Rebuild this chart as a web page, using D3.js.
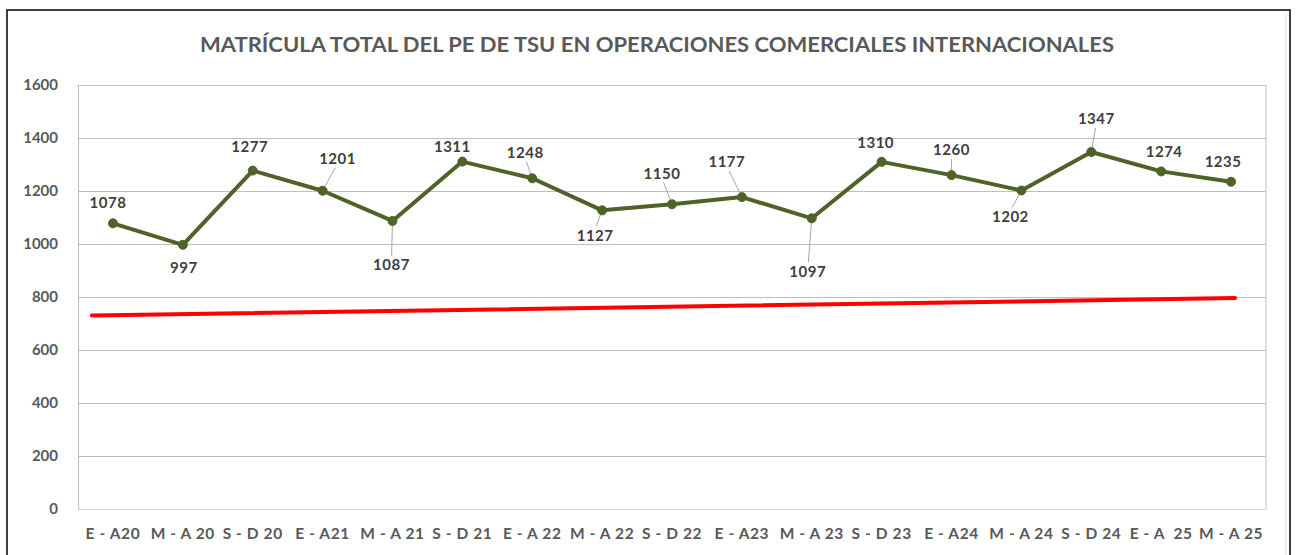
<!DOCTYPE html>
<html>
<head>
<meta charset="utf-8">
<script src="https://cdn.jsdelivr.net/npm/d3@7"></script>
<style>
  html, body { margin: 0; padding: 0; background: #fff; }
  svg { display: block; }
  text { font-family: Lato, "Open Sans", "DejaVu Sans", sans-serif; }
</style>
</head>
<body>
<svg id="chart" width="1296" height="555"></svg>
<script>
// Enrolment per term
const periods = ["E - A20", "M - A 20", "S - D 20", "E - A21", "M - A 21", "S - D 21",
                 "E - A 22", "M - A 22", "S - D 22", "E - A23", "M - A 23", "S - D 23",
                 "E - A24", "M - A 24", "S - D 24", "E - A  25", "M - A 25"];
const enrolment = [1078, 997, 1277, 1201, 1087, 1311, 1248, 1127, 1150, 1177, 1097,
                   1310, 1260, 1202, 1347, 1274, 1235];
// Reference (trend) line: value at its start and at its end
const trendValues = [730, 796];
const yTicks = [0, 200, 400, 600, 800, 1000, 1200, 1400, 1600];
const title = "MATRÍCULA TOTAL DEL PE DE TSU EN OPERACIONES COMERCIALES INTERNACIONALES";

// Label placement relative to each point (pixels) and whether a leader line is drawn
const labelOffsets = [[-5,-21],[1,23],[-3,-24],[15,-32],[-1,44],[-10,-15],[-7,-26],[-7,25],
                      [-10,-31],[-15,-35],[-4,53],[-6,-19],[0,-25],[-11,26],[5,-33],[3,-20],[-8,-20]];
const leaders = [0,0,0,1,1,0,1,1,1,1,1,0,1,1,1,0,0];

const svg = d3.select("#chart");
const W = 1296, H = 555;
const plot = { left: 78, right: 1266, top: 85, bottom: 509 };

// Outer frame
svg.append("rect").attr("x", 7).attr("y", 10).attr("width", 1283).attr("height", 560)
  .attr("fill", "#fff").attr("stroke", "#000").attr("stroke-width", 1.5);
svg.append("line").attr("x1", 1286).attr("x2", 1286).attr("y1", 14).attr("y2", H)
  .attr("stroke", "#d9d9d9").attr("stroke-width", 1);

const x = d3.scaleBand().domain(periods).range([plot.left, plot.right]).padding(0);
const cx = d => x(d) + x.bandwidth() / 2;
const y = d3.scaleLinear().domain([0, 1600]).range([plot.bottom, plot.top]);

// Title
svg.append("text")
  .attr("x", 657).attr("y", 52)
  .attr("text-anchor", "middle")
  .attr("font-size", 20).attr("font-weight", "bold")
  .attr("fill", "#595959")
  .attr("textLength", 914).attr("lengthAdjust", "spacingAndGlyphs")
  .text(title);

// Gridlines + y axis labels
const yAxis = d3.axisLeft(y).tickValues(yTicks).tickFormat(d3.format("d"))
  .tickSize(-(plot.right - plot.left)).tickPadding(20);
const gy = svg.append("g").attr("transform", `translate(${plot.left},0)`).call(yAxis);
gy.select(".domain").attr("stroke", "#bfbfbf");
gy.selectAll(".tick line").attr("stroke", "#bfbfbf").attr("stroke-width", 1);
gy.selectAll(".tick text").attr("font-size", 15).attr("font-weight", "bold")
  .attr("fill", "#595959").attr("font-family", "Lato, 'Open Sans', sans-serif");

// Right border of plot area
svg.append("line").attr("x1", plot.right).attr("x2", plot.right)
  .attr("y1", plot.top).attr("y2", plot.bottom).attr("stroke", "#bfbfbf");

// X axis
const xAxis = d3.axisBottom(x).tickSize(0).tickPadding(19);
const gx = svg.append("g").attr("transform", `translate(0,${plot.bottom})`).call(xAxis);
gx.select(".domain").attr("stroke", "#d9d9d9");
gx.selectAll(".tick text").attr("font-size", 15.5).attr("font-weight", "bold")
  .attr("fill", "#595959").attr("font-family", "Lato, 'Open Sans', sans-serif")
  .attr("letter-spacing", 0.6)
  .style("white-space", "pre").attr("xml:space", "preserve");

// Trend line (extends a little past the first and last points)
const tx0 = cx(periods[0]) - 21, tx1 = cx(periods[periods.length - 1]) + 4;
svg.append("line")
  .attr("x1", tx0).attr("y1", y(trendValues[0]))
  .attr("x2", tx1).attr("y2", y(trendValues[1]))
  .attr("stroke", "#ff0000").attr("stroke-width", 4).attr("stroke-linecap", "round");

// Enrolment line
const series = periods.map((p, i) => ({ p, v: enrolment[i], i }));
const line = d3.line().x(d => cx(d.p)).y(d => y(d.v));
svg.append("path").datum(series)
  .attr("d", line).attr("fill", "none")
  .attr("stroke", "#4f6228").attr("stroke-width", 4).attr("stroke-linejoin", "round");

// Leader lines
svg.selectAll("line.leader").data(series.filter(d => leaders[d.i]))
  .join("line").attr("class", "leader")
  .attr("x1", d => cx(d.p)).attr("y1", d => y(d.v))
  .attr("x2", d => cx(d.p) + labelOffsets[d.i][0] * 0.85)
  .attr("y2", d => y(d.v) + labelOffsets[d.i][1] + (labelOffsets[d.i][1] < 0 ? 9 : -9))
  .attr("stroke", "#a6a6a6").attr("stroke-width", 1);

// Markers
svg.selectAll("circle.pt").data(series).join("circle").attr("class", "pt")
  .attr("cx", d => cx(d.p)).attr("cy", d => y(d.v)).attr("r", 4.5)
  .attr("fill", "#4f6228").attr("stroke", "#4f6228");

// Data labels
svg.selectAll("text.val").data(series).join("text").attr("class", "val")
  .attr("x", d => cx(d.p) + labelOffsets[d.i][0])
  .attr("y", d => y(d.v) + labelOffsets[d.i][1])
  .attr("dy", "0.35em").attr("text-anchor", "middle")
  .attr("font-size", 15).attr("font-weight", "bold").attr("fill", "#404040")
  .attr("letter-spacing", 0.5)
  .text(d => d.v);
</script>
</body>
</html>
